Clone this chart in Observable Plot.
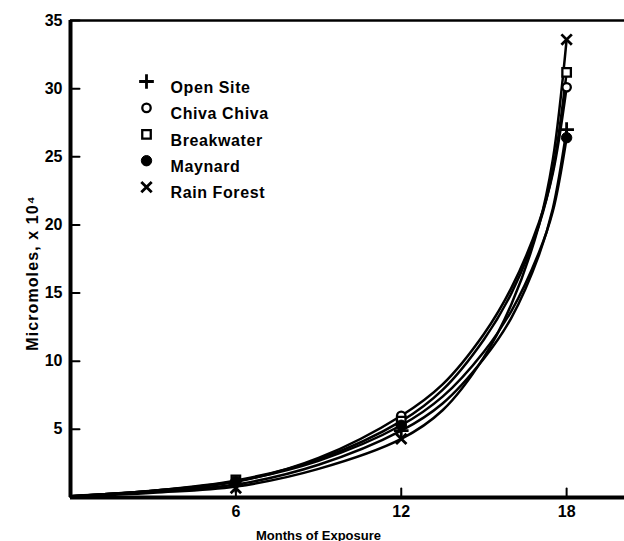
<!DOCTYPE html>
<html><head><meta charset="utf-8">
<script src="https://cdn.jsdelivr.net/npm/d3@7"></script>
<script src="https://cdn.jsdelivr.net/npm/@observablehq/plot@0.6"></script>
<style>body{margin:0;background:#fff}</style>
</head><body><div id="chart"></div>
<script>
// Data
const months = [6, 12, 18];
const seriesNames = ["Open Site", "Chiva Chiva", "Breakwater", "Maynard", "Rain Forest"];
const openSite = [0.9, 4.9, 27.0];
const chivaChiva = [1.1, 6.0, 30.1];
const breakwater = [1.3, 5.6, 31.2];
const maynard = [1.2, 5.3, 26.4];
const rainForest = [0.7, 4.3, 33.6];

// Hand-drawn fitted curves
const curveMonths = [0, 3, 6, 9, 12, 13.5, 15, 16, 17, 17.5, 18];
const openSiteCurve = [0.1, 0.45, 0.95, 2.4, 4.9, 6.9, 10.2, 13.2, 17.8, 21.2, 27.0];
const chivaChivaCurve = [0.1, 0.5, 1.15, 2.9, 6.0, 8.3, 12.0, 15.4, 20.2, 23.8, 30.1];
const breakwaterCurve = [0.1, 0.5, 1.25, 2.8, 5.6, 7.9, 11.6, 15.0, 20.0, 24.0, 31.2];
const maynardCurve = [0.1, 0.5, 1.2, 2.7, 5.3, 7.4, 10.7, 13.7, 18.0, 21.0, 26.4];
const rainForestCurve = [0.05, 0.35, 0.8, 2.1, 4.3, 6.4, 10.3, 14.2, 20.0, 24.8, 33.6];

const yTicks = [5, 10, 15, 20, 25, 30, 35];
const xTicks = [6, 12, 18];

const pointValues = [openSite, chivaChiva, breakwater, maynard, rainForest];
const curveValues = [openSiteCurve, chivaChivaCurve, breakwaterCurve, maynardCurve, rainForestCurve];

const symbolStyles = [
  {symbol: "plus", fill: "none", stroke: "black", strokeWidth: 2.8, r: 4.8},
  {symbol: "circle", fill: "white", stroke: "black", strokeWidth: 2.3, r: 4.2},
  {symbol: "square", fill: "white", stroke: "black", strokeWidth: 2.3, r: 4.8},
  {symbol: "circle", fill: "black", stroke: "black", strokeWidth: 1, r: 5.2},
  {symbol: "times", fill: "none", stroke: "black", strokeWidth: 2.8, r: 4.8}
];

const points = seriesNames.flatMap((s, i) => months.map((m, j) => ({series: s, month: m, value: pointValues[i][j]})));
const curves = seriesNames.flatMap((s, i) => curveMonths.map((m, j) => ({series: s, month: m, value: curveValues[i][j]})));

const font = "'Liberation Sans', Arial, sans-serif";
// plain straight tick shape for the vector mark
const tickShape = {draw(context, l) { context.moveTo(0, 0); context.lineTo(0, -l); }};

const marks = [
  Plot.line(curves, {x: "month", y: "value", z: "series", curve: "catmull-rom", stroke: "black", strokeWidth: 2.5}),
  ...seriesNames.map((s, i) => Plot.dot(points.filter(d => d.series === s), {x: "month", y: "value", ...symbolStyles[i]})),
  // axis lines and top border
  Plot.ruleX([0], {y1: 0, y2: 35, stroke: "#000", strokeWidth: 4}),
  Plot.ruleY([0], {stroke: "#000", strokeWidth: 4}),
  Plot.ruleY([35], {stroke: "#000", strokeWidth: 2.6}),
  // inward tick marks
  Plot.vector(yTicks, {x: 0, y: d => d, length: 9, rotate: 90, anchor: "start", shape: tickShape, stroke: "#000", strokeWidth: 2}),
  Plot.vector(xTicks, {x: d => d, y: 0, length: 9, rotate: 0, anchor: "start", shape: tickShape, stroke: "#000", strokeWidth: 2}),
  // tick labels
  Plot.axisY({ticks: yTicks, tickSize: 0, tickPadding: 8, fontSize: 16, fontWeight: "bold", label: null}),
  Plot.axisX({ticks: xTicks, tickSize: 0, tickPadding: 8, fontSize: 16, fontWeight: "bold", label: null}),
  // axis titles
  Plot.text(["Micromoles, x 10\u2074"], {frameAnchor: "left", text: d => d, rotate: -90, textAnchor: "middle", dx: -38, dy: 14, fontSize: 16, fontWeight: "bold"}),
  Plot.text(["Months of Exposure"], {frameAnchor: "bottom", text: d => d, textAnchor: "middle", dx: -29, dy: 42, fontSize: 13, fontWeight: "bold"}),
  // legend
  ...seriesNames.map((s, i) => Plot.dot([s], {frameAnchor: "top-left", dx: 76, dy: 61 + 26.4 * i, ...symbolStyles[i]})),
  ...seriesNames.map((s, i) => Plot.text([s], {frameAnchor: "top-left", text: d => d, textAnchor: "start", dx: 100, dy: 61 + 26.4 * i, fontSize: 16, fontWeight: "bold"}))
];

const chart = Plot.plot({
  width: 624,
  height: 541,
  marginLeft: 70,
  marginRight: 0,
  marginTop: 20,
  marginBottom: 44,
  style: {fontFamily: font, background: "white", color: "black"},
  x: {domain: [0, 20.1], label: null},
  y: {domain: [0, 35], label: null},
  marks
});
// letter spacing of the old lettering
d3.select(chart).selectAll("text").each(function () {
  const t = this.textContent;
  if (seriesNames.includes(t)) this.setAttribute("letter-spacing", "0.6");
  else if (t.startsWith("Micromoles")) this.setAttribute("letter-spacing", "1.1");
});
document.getElementById("chart").append(chart);
</script>
</body></html>
